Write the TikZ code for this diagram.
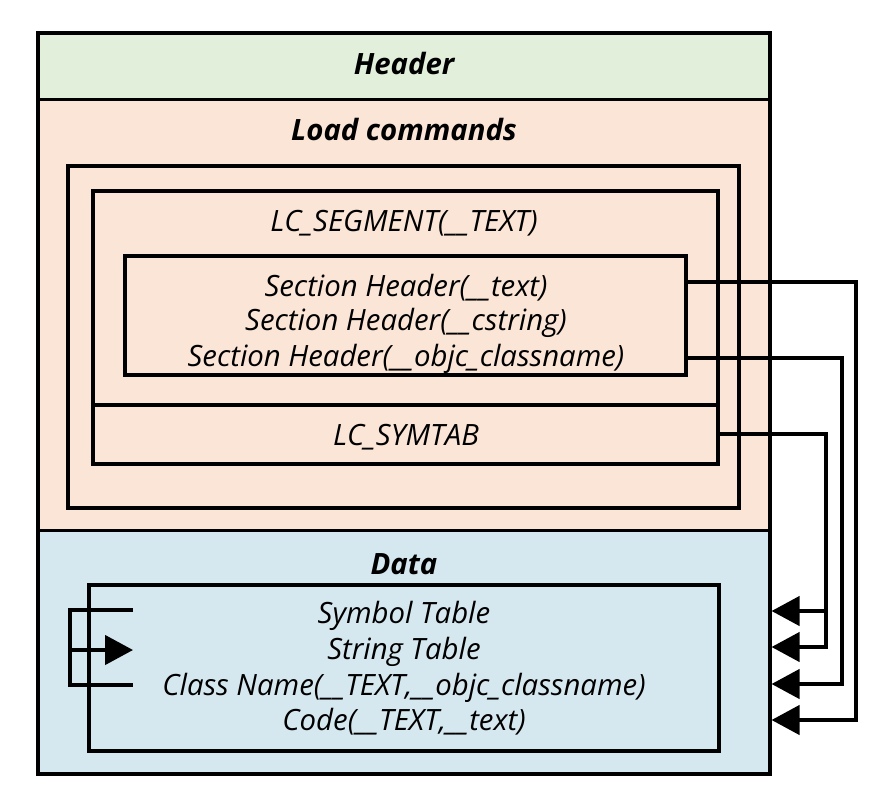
\documentclass[tikz,border=0pt]{standalone}
\usepackage{fontspec}
\setmainfont{Open Sans}
\usetikzlibrary{arrows.meta,fit}
\definecolor{hdrc}{HTML}{E2EFDA}
\definecolor{lcc}{HTML}{FBE5D6}
\definecolor{datc}{HTML}{D6E8EF}
\begin{document}
\begin{tikzpicture}[x=0.75pt,y=-0.75pt,
  box/.style={draw, line width=2.4pt, inner sep=0pt},
  region/.style={inner sep=0pt},
  lbl/.style={font=\fontsize{22}{26}\selectfont\itshape, inner sep=0pt},
  ttl/.style={font=\fontsize{22}{26}\selectfont\bfseries\itshape, inner sep=0pt},
  conn/.style={draw, line width=2.6pt},
  tip/.style={-{Triangle[length=21pt,width=22pt]}}]
\useasboundingbox (0,0) rectangle (878,800);
% regions
\node[region, fill=hdrc, fit={(38,33)(770,99)}] (hdr) {};
\node[region, fill=lcc, fit={(38,99)(770,531)}] (lcr) {};
\node[region, fill=datc, fit={(38,531)(770,774)}] (datr) {};
% borders
\node[box, fit={(38,33)(770,774)}] (file) {};
\draw[line width=2.4pt] (hdr.south west) -- (hdr.south east);
\draw[line width=2.4pt] (datr.north west) -- (datr.north east);
\node[box, fit={(68,166)(739,508)}] (lcbox) {};
\node[box, fit={(93,191)(718,405)}] (seg) {};
\node[box, fit={(93,405)(718,464)}] (symtab) {};
\node[box, fit={(125,256)(686,375)}] (sec) {};
\node[box, fit={(89,585)(719,751)}] (dbox) {};
% texts
\node[ttl] (th) at (404,63) {Header};
\node[ttl] (tl) at (404,129) {Load commands};
\node[lbl] (tseg) at (404,223) {LC\_SEGMENT(\_\_TEXT)};
\node[lbl] (t1) at (406,288) {Section Header(\_\_text)};
\node[lbl] (t2) at (406,323) {Section Header(\_\_cstring)};
\node[lbl] (t3) at (406,359) {Section Header(\_\_objc\_classname)};
\node[lbl] (tsym) at (406,437) {LC\_SYMTAB};
\node[ttl] (td) at (404,564) {Data};
\node[lbl] (dsym) at (404,616) {Symbol Table};
\node[lbl] (dstr) at (404,652) {String Table};
\node[lbl] (dcls) at (404,688) {Class Name(\_\_TEXT,\_\_objc\_classname)};
\node[lbl] (dcode) at (404,722) {Code(\_\_TEXT,\_\_text)};
% connector rows and columns
\coordinate (y1) at (0,282);
\coordinate (y3) at (0,358);
\coordinate (ys) at (0,434);
\coordinate (a1) at (0,611);
\coordinate (a2) at (0,647);
\coordinate (a3) at (0,684);
\coordinate (a4) at (0,720);
\coordinate (r1) at (856,0);
\coordinate (r2) at (842,0);
\coordinate (r3) at (826,0);
\coordinate (lb) at (70,0);
\coordinate (rb) at (133,0);
\coordinate (b1) at (0,610);
\coordinate (b2) at (0,650);
\coordinate (b3) at (0,685);
% right connectors
\draw[conn,tip] (sec.east |- y1) -| (r1 |- a4) -- (file.east |- a4);
\draw[conn,tip] (sec.east |- y3) -| (r2 |- a3) -- (file.east |- a3);
\draw[conn,tip] (symtab.east |- ys) -| (r3 |- a2) -- (file.east |- a2);
\draw[conn,tip] (r3 |- a1) -- (file.east |- a1);
% left bracket
\draw[conn] (rb |- b1) -| (lb |- b3) -- (rb |- b3);
\draw[conn,tip] (lb |- b2) -- (rb |- b2);
\end{tikzpicture}
\end{document}
